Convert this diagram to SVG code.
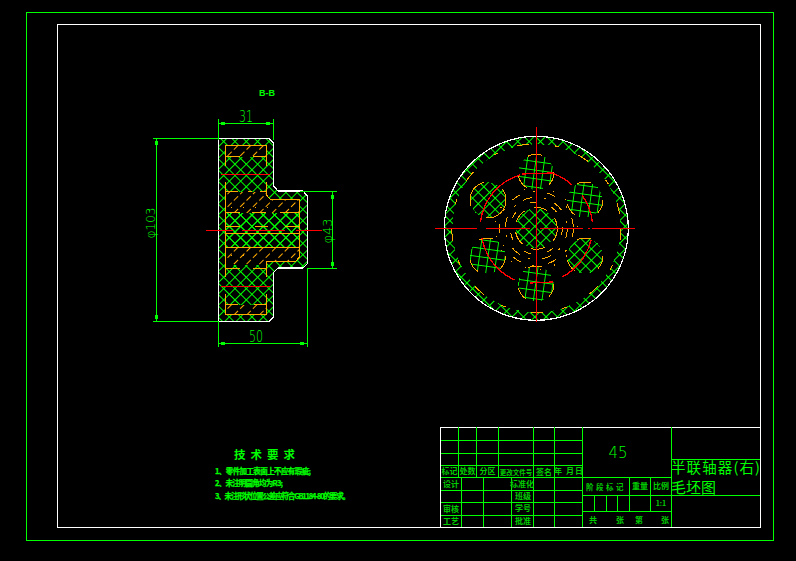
<svg xmlns="http://www.w3.org/2000/svg" width="796" height="561" viewBox="0 0 796 561">
<style>
svg{shape-rendering:crispEdges}
.g{stroke:#0f0;fill:none;stroke-width:1}
.w{stroke:#fff;fill:none;stroke-width:1.2}
.r{stroke:#f00;fill:none;stroke-width:1.3}
.o{stroke:#fa0;fill:none;stroke-width:1}
.tk{stroke:#0f0;stroke-width:3}
text{fill:#0f0;font-family:"Liberation Sans","Noto Sans CJK SC",sans-serif}
.t{font-size:8px;text-anchor:middle;font-family:"Noto Sans CJK SC",sans-serif;font-weight:700;fill:#0c0}
.d{font-family:"DejaVu Sans ExtraLight","DejaVu Sans",sans-serif;font-weight:200;text-anchor:middle}
.n{font-family:"Noto Sans CJK SC",sans-serif;font-weight:700;font-size:7.500px;stroke:#0f0;stroke-width:.25}
</style>
<defs>
<pattern id="x45" width="8" height="8" patternUnits="userSpaceOnUse" patternTransform="rotate(45 218 138)">
<path d="M0 .5H8M.5 0V8" stroke="#0f0" stroke-width="1.1" fill="none"/>
</pattern>
<pattern id="x10" width="8.500" height="8.500" patternUnits="userSpaceOnUse" patternTransform="rotate(8)">
<path d="M0 .5H8.500M.5 0V8.500" stroke="#0f0" stroke-width="1.500" fill="none"/>
</pattern>
<pattern id="oh" width="9" height="9" patternUnits="userSpaceOnUse" patternTransform="rotate(45 225 145)">
<path d="M.5 1V7" stroke="#fa0" stroke-width="1" fill="none"/>
</pattern>
<pattern id="od" width="12" height="12" patternUnits="userSpaceOnUse">
<rect x="3" y="3" width="1" height="1" fill="#fa0"/>
</pattern>
</defs>
<rect width="796" height="561" fill="#000"/>
<rect x="26.500" y="12.500" width="747" height="528" class="g"/>
<rect x="57.500" y="24.500" width="703" height="503" class="w"/>

<g id="section-view">
<path id="section-outline" d="M218.500 138.500H269L273.500 143V186L278 191H303L307.500 196V263.500L303 268H278L273.500 272.500V317L269 321.500H218.500Z" fill="url(#x45)"/>
<g fill="#000">
<path d="M225.500 145.500H266.500V156.500H225.500Z"/>
<path d="M225.500 191.500H266.500V195L270 199H299.500V212.500H225.500Z"/>
<path d="M225.500 247.500H299.500V257L296 261H266.500V265H225.500Z"/>
<path d="M225.500 304.500H266.500V314.500H225.500Z"/>
<path d="M225.500 212.500H299.500V247.500H225.500Z" fill="url(#x45)"/>
</g>
<g fill="url(#oh)">
<path d="M225.500 145.500H266.500V156.500H225.500Z"/>
<path d="M225.500 191.500H266.500V195L270 199H299.500V212.500H225.500Z"/>
<path d="M225.500 247.500H299.500V257L296 261H266.500V265H225.500Z"/>
<path d="M225.500 304.500H266.500V314.500H225.500Z"/>
</g>
<g fill="url(#od)">
<rect x="228" y="196" width="40" height="16"/>
<rect x="228" y="250" width="38" height="14"/>
</g>
<path class="o" d="M225.500 166V145.500H266.500V166M225.500 156.500H240M253 156.500H266.500"/>
<path class="o" d="M225.500 182V277M266.500 182V195L270 199H299.500V257L296 261H266.500V277"/>
<path class="o" d="M225.500 191.500H238M248 191.500H252M260 191.500H266.500"/>
<path class="o" d="M225.500 212.500H240M252 212.500H266M280 212.500H299M225.500 226.500H240M255 226.500H268M285 226.500H299M225.500 233.500H299M225.500 247.500H299M225.500 268.500H240M253 268.500H266"/>
<path class="o" d="M225.500 294V314.500H266.500V294M225.500 304.500H238M254 304.500H266.500"/>
<path class="o" stroke-width="2" d="M299.500 200V240"/>
<path class="w" d="M218.500 138.500H269L273.500 143V186L278 191H303L307.500 196V263.500L303 268H278L273.500 272.500V317L269 321.500H218.500Z"/>
<path class="r" d="M221 174.500H270M221 286.500H270M206 230.500H233M242 230.500H285M296 230.500H322"/>
</g>

<g id="dimensions">
<path class="g" d="M218.500 119V140M273.500 119V140M218.500 123.500H273.500"/>
<path class="tk" d="M221 123.500H225M266 123.500H270"/>
<path class="g" d="M153 138.500H218M153 321.500H218M156.500 138V321"/>
<path class="tk" d="M156.500 141V145M156.500 315V319"/>
<path class="g" d="M300 191.500H337M307 268.500H337M332.500 191V268"/>
<path class="tk" d="M332.500 195V199M332.500 262V266"/>
<path class="g" d="M218.500 321V347M307.500 268V347M218.500 343.500H307.500"/>
<path class="tk" d="M221 343.500H225M300 343.500H304"/>
<text class="d" x="246" y="122" font-size="15" textLength="14" lengthAdjust="spacingAndGlyphs">31</text>
<text class="d" x="256" y="342" font-size="15" textLength="14" lengthAdjust="spacingAndGlyphs">50</text>
<text class="d" transform="translate(155 223) rotate(-90)" font-size="13" textLength="31" lengthAdjust="spacingAndGlyphs">φ103</text>
<text class="d" transform="translate(332 231) rotate(-90)" font-size="13" textLength="25" lengthAdjust="spacingAndGlyphs">φ43</text>
<text x="267" y="96" font-size="9" font-weight="700" text-anchor="middle">B-B</text>
</g>

<g id="end-view">
<path id="ring" fill-rule="evenodd" fill="url(#x45)" d="M444.300 228.300a92 92 0 1 0 184 0a92 92 0 1 0-184 0ZM452.300 228.300a84 84 0 1 0 168 0a84 84 0 1 0-168 0Z"/>
<circle class="o" cx="536.300" cy="228.300" r="84.500" stroke-dasharray="12 26 5 20"/>
<circle class="w" cx="536.300" cy="228.300" r="92"/>
<g class="o">
<circle cx="536.300" cy="228.300" r="37" stroke-dasharray="9 14 2 12"/>
<circle cx="536.300" cy="228.300" r="31" stroke-dasharray="10 12 2 9"/>
<circle cx="536.300" cy="228.300" r="41" stroke-dasharray="1 14"/>
<circle cx="536.300" cy="228.300" r="26" stroke-dasharray="7 16"/>
<circle cx="536.300" cy="228.300" r="21" stroke-dasharray="14 10"/>
</g>
<circle cx="536" cy="228.300" r="20" fill="url(#x45)"/>
<g id="holes">
<circle cx="536" cy="172.300" r="17.700" fill="url(#x10)"/>
<circle cx="585" cy="200" r="17.700" fill="url(#x10)"/>
<circle cx="487.500" cy="256" r="17.700" fill="url(#x10)"/>
<circle cx="536" cy="284" r="17.700" fill="url(#x10)"/>
<circle cx="488" cy="200" r="17.700" fill="url(#x45)"/>
<circle cx="585" cy="256" r="17.700" fill="url(#x45)"/>
</g>
<g class="o" stroke-dasharray="14 24">
<circle cx="536" cy="172.300" r="18"/>
<circle cx="585" cy="200" r="18"/>
<circle cx="487.500" cy="256" r="18"/>
<circle cx="536" cy="284" r="18"/>
<circle cx="488" cy="200" r="18" stroke-dasharray="30 20"/>
<circle cx="585" cy="256" r="18"/>
</g>
<path class="r" stroke-width="1.200" d="M480.500 222A56 56 0 0 1 520 175M522 174L552 173A56 56 0 0 1 572 185M582 195A56 56 0 0 1 592.300 222M482 238A56 56 0 0 0 515 280M530 283L553 282M562 277A56 56 0 0 0 591 240"/>
<path class="r" d="M536.500 127V322M435 228.500H477M486 228.500H530M540 228.500H583M588 228.500H590M592 228.500H635"/>
</g>

<g id="tech-notes">
<text x="267" y="459" text-anchor="middle" font-size="11.500" font-weight="700" letter-spacing="5" style="font-family:'Noto Sans CJK SC',sans-serif">技术要求</text>
<text class="n" x="215" y="474" textLength="96">1、零件加工表面上不应有瑕疵;</text>
<text class="n" x="215" y="486" textLength="68">2、未注明圆角均为R3;</text>
<text class="n" x="215" y="499" textLength="135">3、未注形状位置公差应符合GB1184-80的要求。</text>
</g>

<g id="title-block">
<rect x="440.500" y="427.500" width="320" height="100" class="w"/>
<path class="g" d="M440.500 440.500H582.500M440.500 453.500H582.500M440.500 465.500H582.500M440.500 477.500H671.500M440.500 490.500H582.500M440.500 502.500H582.500M440.500 515.500H582.500"/>
<path class="g" d="M458.500 427V477M476.500 427V477M498.500 427V477M533.500 427V527M554.500 427V527M582.500 427V527M461.500 477V527M483.500 477V527M511.500 477V527"/>
<path class="g" d="M671.500 427V527M671.500 459.500H760M582.500 495.500H760M582.500 511.500H671.500M629.500 477V511M650.500 477V511M594.500 495V511M606.500 495V511M617.500 495V511"/>
<text class="t" x="449.500" y="474">标记</text>
<text class="t" x="467.500" y="474">处数</text>
<text class="t" x="487.500" y="474">分区</text>
<text class="t" x="516" y="475" style="font-size:6.500px">更改文件号</text>
<text class="t" x="544" y="475">签名</text>
<text class="t" x="558" y="474">年</text>
<text class="t" x="570" y="474">月</text>
<text class="t" x="579" y="474">日</text>
<text class="t" x="451" y="487">设计</text>
<text class="t" x="522" y="487">标准化</text>
<text class="t" x="523" y="499">班级</text>
<text class="t" x="523" y="511">学号</text>
<text class="t" x="523" y="524">批准</text>
<text class="t" x="451" y="512">审核</text>
<text class="t" x="451" y="524">工艺</text>
<text class="t" x="606" y="490" letter-spacing="2.500" style="font-size:7.500px">阶段标记</text>
<text class="t" x="640" y="489">重量</text>
<text class="t" x="661" y="489">比例</text>
<text class="t" x="661" y="506" style="font-size:7px">1:1</text>
<text class="t" x="593" y="523">共</text>
<text class="t" x="620" y="523">张</text>
<text class="t" x="639" y="523">第</text>
<text class="t" x="665" y="523">张</text>
<text class="d" x="618" y="458" font-size="15">45</text>
<text x="671" y="473" font-size="14.500" textLength="89" style="font-family:'Noto Sans CJK SC',sans-serif">半联轴器(右)</text>
<text x="671" y="493" font-size="15" style="font-family:'Noto Sans CJK SC',sans-serif">毛坯图</text>
</g>
</svg>
